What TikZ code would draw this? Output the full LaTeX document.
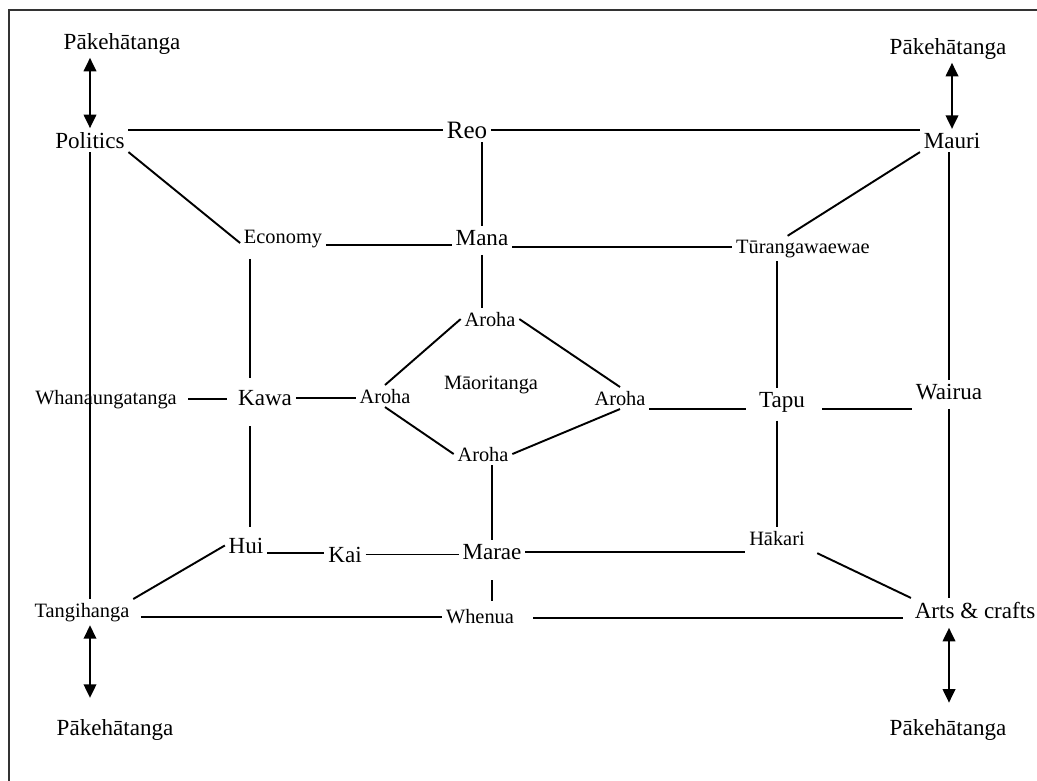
\documentclass[tikz,border=0pt]{standalone}
\usepackage{fontspec}
\setmainfont{Liberation Serif}
\usetikzlibrary{arrows.meta}

\begin{document}
\begin{tikzpicture}[x=0.52pt, y=-0.52pt, line width=1pt,
    main/.style={inner sep=1.5pt, anchor=base, font=\fontsize{12}{14}\selectfont},
    sub/.style={inner sep=1.5pt, anchor=base, font=\fontsize{10.6}{12}\selectfont},
    dbl/.style={{Triangle[length=7pt,width=6.5pt]}-{Triangle[length=7pt,width=6.5pt]}}]
		\useasboundingbox (0,0) rectangle (1037,780);
		\draw[line width=1pt, black!80] (9,790) -- (9,10) -- (1045,10);

		% outer ring
		\node[main] (pakTL) at (122,49) {Pākehātanga};
		\node[main] (pakTR) at (948,54) {Pākehātanga};
		\node[main] (pakBL) at (115,735) {Pākehātanga};
		\node[main] (pakBR) at (948,735) {Pākehātanga};
		\node[main] (politics) at (90,148) {Politics};
		\node[main, font=\fontsize{13}{15}\selectfont] (reo) at (467,138) {Reo};
		\node[main] (mauri) at (952,148) {Mauri};
		\node[sub] (whanau) at (106,404) {Whanaungatanga};
		\node[main] (wairua) at (949,399) {Wairua};
		\node[sub] (tangi) at (82,617) {Tangihanga};
		\node[sub] (whenua) at (480,623) {Whenua};
		\node[main] (arts) at (975,618) {Arts \& crafts};

		% inner ring
		\node[sub] (economy) at (283,243) {Economy};
		\node[main] (mana) at (482,245) {Mana};
		\node[sub] (turanga) at (803,253) {Tūrangawaewae};
		\node[main] (kawa) at (265,405) {Kawa};
		\node[main] (tapu) at (782,407) {Tapu};
		\node[main] (hui) at (246,553) {Hui};
		\node[main] (kai) at (345,562) {Kai};
		\node[main] (marae) at (492,559) {Marae};
		\node[sub] (hakari) at (777,545) {Hākari};
		\coordinate (col) at ([xshift=2pt]hui.north);

		% centre
		\node[sub] (arohaT) at (490,326) {Aroha};
		\node[sub] (arohaL) at (385,403) {Aroha};
		\node[sub] (arohaR) at (620,405) {Aroha};
		\node[sub] (arohaB) at (483,461) {Aroha};
		\node[sub] (maori) at (491,389) {Māoritanga};

		\draw[dbl] (politics.north |- pakTL.south) -- (politics.north);
		\draw[dbl] (mauri.north |- pakTR.south) -- (mauri.north);
		\draw[dbl, shorten >=9pt] (politics.south |- tangi.south) -- (politics.south |- pakBL.north);
		\draw[dbl, shorten >=6.5pt, shorten <=3pt] (wairua.south |- arts.south) -- (wairua.south |- pakBR.north);

		\draw (politics.east |- reo.west) -- (reo.west);
		\draw (reo.east) -- (reo.east -| mauri.west);
		\draw (politics.south) -- (politics.south |- tangi.north);
		\draw (wairua.north |- mauri.south) -- (wairua.north);
		\draw[shorten <=3pt] (wairua.south) -- (wairua.south |- arts.north);
		\draw[shorten <=4pt] (tangi.base east) -- (tangi.base east -| whenua.west);
		\draw[shorten <=8pt, shorten >=4pt] (arts.base west -| whenua.east) -- (arts.base west);

		\draw (politics.south east) -- (economy.base west);
		\draw (mauri.south west) -- ([xshift=-8pt]turanga.north);
		\draw (hui.west) -- (tangi.north east);
		\draw[shorten <=5pt] (hakari.south east) -- (arts.north west);

		\draw ([yshift=-1pt]economy.base east) -- ([yshift=-1pt]economy.base east -| mana.west);
		\draw ([yshift=-1pt]mana.base east) -- ([yshift=-1pt]mana.base east -| turanga.west);
		\draw[shorten <=4pt, shorten >=4pt] (economy.south -| col) -- (kawa.north -| col);
		\draw[shorten <=9pt, shorten >=3.5pt] (kawa.south -| col) -- (col);
		\draw (turanga.south -| hakari.north) -- (tapu.north -| hakari.north);
		\draw[shorten <=2.5pt] (tapu.south -| hakari.north) -- (hakari.north);
		\draw (hui.base east) -- (hui.base east -| kai.west);
		\draw (kai.east) -- (kai.east -| marae.west);
		\draw (marae.east) -- (marae.east -| hakari.west);
		\draw[shorten <=4pt, shorten >=4pt] (whanau.east) -- (whanau.east -| kawa.west);
		\draw (kawa.east) -- (kawa.east -| arohaL.west);
		\draw[shorten >=5pt] ([yshift=-1pt]tapu.base west -| arohaR.east) -- ([yshift=-1pt]tapu.base west);
		\draw[shorten <=7pt] ([yshift=-1pt]tapu.base east) -- ([yshift=-1pt]tapu.base east -| wairua.west);

		\draw (reo.south -| mana.north) -- (mana.north);
		\draw[shorten <=3pt] (mana.south) -- (mana.south |- arohaT.north);
		\draw (marae.north |- arohaB.south) -- (marae.north);
		\draw[shorten <=9pt, shorten >=2pt] (marae.south) -- (marae.south |- whenua.north);

		\draw (arohaT.west) -- (arohaL.north);
		\draw (arohaT.east) -- (arohaR.north);
		\draw (arohaL.south) -- (arohaB.west);
		\draw (arohaR.south) -- (arohaB.east);
	\end{tikzpicture}
\end{document}
